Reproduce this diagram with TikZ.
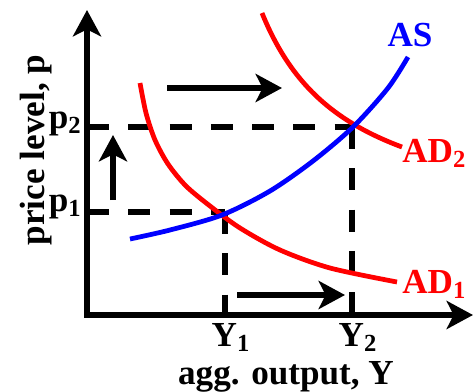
\documentclass[tikz,border=0pt]{standalone}
\usepackage{fontspec}
\setmainfont{Liberation Serif}
\usetikzlibrary{arrows.meta}
\definecolor{asblue}{HTML}{0000FF}
\definecolor{adred}{HTML}{FF0000}
\begin{document}
\begin{tikzpicture}[x=0.02cm,y=-0.02cm,
 lab/.style={font=\fontsize{20}{24}\selectfont\bfseries,inner sep=0pt},
 ax/.style={{Stealth[length=15pt,width=16pt,inset=4pt]}-{Stealth[length=15pt,width=16pt,inset=4pt]},
   line width=3pt,line join=miter},
 a/.style={-{Stealth[length=15pt,width=16pt,inset=4pt]},line width=3.3pt},
 d/.style={line width=3.2pt,dash pattern=on 12.5pt off 11pt},
 c/.style={line width=2.7pt}]
\useasboundingbox (0,0) rectangle (474,392);
\coordinate (O) at (87,315);
\coordinate (yt) at (87,10);
\coordinate (xt) at (473,315);
\coordinate (E1) at (225,212);
\coordinate (E2) at (352,127);
% dashed guide lines
\draw[d] (O|-E1) -- (E1); \draw[d] (E1) -- (E1|-O);
\draw[d] (O|-E2) -- (E2); \draw[d] (E2) -- (E2|-O);
% curves
\draw[c,adred] plot[smooth] coordinates {(140,83) (146,113) (155,140) (168,164) (186,186)
  (210,206) (240,228) (280,250) (330,268) (397,282)};
\draw[c,adred] plot[domain=262:402,samples=60] (\x,{232.2-195.07/((\x-173)/100)});
\draw[c,asblue] plot[smooth] coordinates {(130,239) (170,230) (222,215) (270,191) (313,161)
  (353,127) (388,88) (408,57)};
% axes
\draw[ax] (yt) -- (O) -- (xt);
% shift arrows
\coordinate (t1) at (167,88); \coordinate (t2) at (282,88);
\coordinate (u1) at (113,200); \coordinate (u2) at (113,135);
\coordinate (b1) at (237,295); \coordinate (b2) at (345,295);
\draw[a] (t1) -- (t2); \draw[a] (u1) -- (u2); \draw[a] (b1) -- (b2);
% labels
\node[lab,anchor=base east] (p2) at (82,128) {p\textsubscript{2}};
\node[lab,anchor=base east] (p1) at (82,211) {p\textsubscript{1}};
\node[lab,anchor=base] (y1) at (231,346) {Y\textsubscript{1}};
\node[lab,anchor=base] (y2) at (358,346) {Y\textsubscript{2}};
\node[lab,anchor=base] (xl) at (286,384) {agg. output, Y};
\node[lab,rotate=90,anchor=base] (yl) at (45,150) {price level, p};
\node[lab,text=asblue,anchor=base] (as) at (410,47) {AS};
\node[lab,text=adred,anchor=base west] (ad2) at (402,162) {AD\textsubscript{2}};
\node[lab,text=adred,anchor=base west] (ad1) at (402,293) {AD\textsubscript{1}};
\end{tikzpicture}
\end{document}
